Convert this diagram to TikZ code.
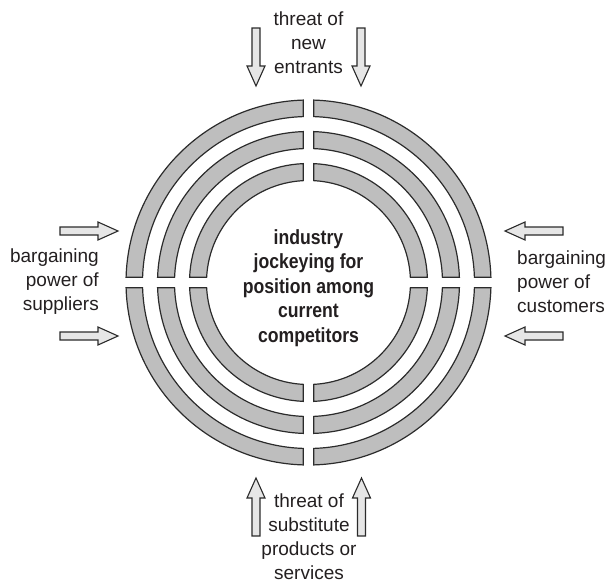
\documentclass[tikz,border=0pt]{standalone}
\usepackage{fontspec}
\setmainfont{Liberation Sans}
\newfontfamily\kernschrift[FakeStretch=0.86]{Liberation Sans}
\definecolor{linie}{HTML}{2B2B2B}
\definecolor{ringgrau}{HTML}{BEBEBE}
\definecolor{pfeilgrau}{HTML}{E6E6E6}
\definecolor{schrift}{HTML}{231F20}
\begin{document}
\begin{tikzpicture}[x=1pt, y=1pt,
		ring/.style={draw=linie, fill=ringgrau, line width=1.2pt, line join=miter},
		pfeil/.style={draw=linie, fill=pfeilgrau, line width=1.1pt, line join=miter},
		beschr/.style={text=schrift, inner sep=0pt, font=\fontsize{19}{24}\selectfont},
		kern/.style={text=schrift, inner sep=0pt, align=center, font=\kernschrift\fontsize{20.5}{24.5}\selectfont\bfseries}]
		
		% Rahmen
		\useasboundingbox (-308.5,-304.5) rectangle (299.5,282.5);
		
		% Ringe (je vier Viertel, Spalt in der Mitte)
		\def\spalt{5.25}
		\foreach \ri/\ro in {102/119, 134/151, 166/182.5}{
			\foreach \q in {0,90,180,270}{
				\pgfmathsetmacro\ao{asin(\spalt/\ro)}
				\pgfmathsetmacro\ai{asin(\spalt/\ri)}
				\pgfmathsetmacro\sa{\q+\ao}
				\pgfmathsetmacro\ea{\q+90-\ao}
				\pgfmathsetmacro\si{\q+90-\ai}
				\pgfmathsetmacro\ei{\q+\ai}
				\draw[ring] (\sa:\ro pt) arc[start angle=\sa, end angle=\ea, radius=\ro pt]
					-- (\si:\ri pt) arc[start angle=\si, end angle=\ei, radius=\ri pt] -- cycle;
			}
		}
		
		% Blockpfeile
		\foreach \x/\y/\w in {-52.5/196.5/-90, 52.5/196.5/-90,
			-52.5/-195.5/90, 53/-195.5/90,
			-190.5/51.5/0, -190.5/-53.5/0,
			196.5/51.5/180, 196.5/-53.5/180}
			\draw[pfeil, shift={(\x,\y)}, rotate=\w] (0,0) -- (-20,9) -- (-20,4) -- (-58,4)
				-- (-58,-4) -- (-20,-4) -- (-20,-9) -- cycle;
		
		% Beschriftungen
		\node[beschr, align=center] (oben) at (0,239.5) {threat of\\new\\entrants};
		\node[beschr, align=center] (unten) at (0.5,-254.5) {threat of\\substitute\\products or\\services};
		\node[beschr, align=right, anchor=east] (links) at (-209.5,0.5) {bargaining\\power of\\suppliers};
		\node[beschr, align=left, anchor=west] (rechts) at (208.5,0.5) {bargaining\\power of\\customers};
		
		% Mitte
		\node[kern] (mitte) at (0,-5.5) {industry\\jockeying for\\position among\\current\\competitors};
	\end{tikzpicture}
\end{document}
